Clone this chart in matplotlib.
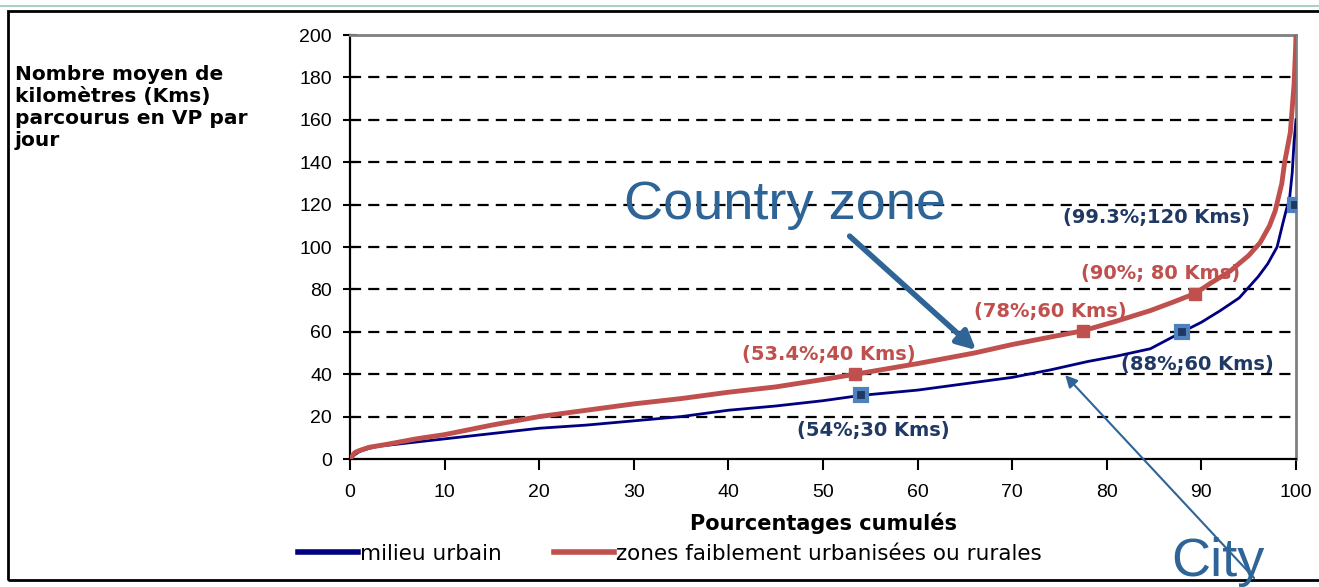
import numpy as np
import matplotlib
matplotlib.use("Agg")
import matplotlib.pyplot as plt
from matplotlib.lines import Line2D
from matplotlib.patches import Rectangle

# cumulative share of drivers (%) vs km per day
urban_x = [0, 0.5, 1, 2, 3, 5, 8, 10, 15, 20, 25, 30, 35, 40, 45, 50, 54, 60, 65, 70,
           74, 78, 81, 84.6, 88, 90, 92, 94, 95, 96, 97, 98, 98.6, 99, 99.3, 99.6, 99.8, 100]
urban_y = [0, 2, 3.5, 5, 6, 7, 8.5, 9.5, 12, 14.5, 16, 18, 20, 23, 25, 27.5, 30, 32.5, 35.5, 38.5,
           42, 46, 48.5, 52, 60, 64.5, 70, 76, 81, 86, 92, 100, 111, 118, 122, 135, 150, 160]

rural_x = [0, 0.5, 1, 2, 4, 7, 10, 15, 20, 25, 30, 35, 40, 45, 50, 53.4, 60, 66, 70, 74,
           77.5, 81, 84.6, 87, 89.3, 91, 93, 95, 96.2, 97.2, 97.8, 98.5, 98.8, 99.4, 99.8, 99.95, 100]
rural_y = [0, 3, 4, 5.5, 7, 9.5, 11.5, 16, 20, 23, 26, 28.5, 31.5, 34, 37.5, 40, 45, 50, 54, 57.5,
           60.5, 65, 70, 74, 78, 83, 88.5, 96, 102, 110, 117, 130, 140, 154, 177, 193, 200]

rural_pts_x = [53.4, 77.5, 89.3]
rural_pts_y = [40, 60.5, 78]
rural_lbl = ["(53.4%;40 Kms)", "(78%;60 Kms)", "(90%; 80 Kms)"]
rural_lbl_pos = [(50.6, 49.5), (74.0, 69.5), (85.7, 87.5)]

urban_pts_x = [54, 88, 99.9]
urban_pts_y = [30, 60, 120]
urban_lbl = ["(54%;30 Kms)", "(88%;60 Kms)", "(99.3%;120 Kms)"]
urban_lbl_pos = [(55.3, 13.5), (89.6, 44.5), (85.3, 114)]

navy = "#000080"
red = "#C0504D"
lblblue = "#1F3864"
arrowblue = "#2F6497"
tickfont = "Liberation Sans"

fig = plt.figure(figsize=(13.19, 5.87), dpi=100)
ax = fig.add_axes([350/1319, 1-459/587, (1296-350)/1319, (459-35)/587])

ax.plot(urban_x, urban_y, color=navy, lw=2, zorder=3)
ax.plot(rural_x, rural_y, color=red, lw=3.5, zorder=4)

ax.plot(rural_pts_x, rural_pts_y, 's', color=red, ms=9, zorder=5)
ax.plot(urban_pts_x, urban_pts_y, 's', mfc=lblblue, mec="#4F81BD", mew=3, ms=9, zorder=5)

for t, (x, y) in zip(rural_lbl, rural_lbl_pos):
    ax.text(x, y, t, color=red, fontsize=14, fontweight="bold", ha="center", va="center", zorder=6)
for t, (x, y) in zip(urban_lbl, urban_lbl_pos):
    ax.text(x, y, t, color=lblblue, fontsize=14, fontweight="bold", ha="center", va="center", zorder=6)

ax.set_xlim(0, 100)
ax.set_ylim(0, 200)
ax.set_xticks(np.arange(0, 101, 10))
ax.set_yticks(np.arange(0, 201, 20))
for lab in ax.get_xticklabels() + ax.get_yticklabels():
    lab.set_fontfamily(tickfont)
    lab.set_fontsize(14)
ax.tick_params(axis="y", direction="inout", length=10, width=1.5, pad=8)
ax.tick_params(axis="x", direction="out", length=8, width=1.5, pad=10)

ax.grid(axis="y", color="black", lw=1.6, linestyle=(0, (5, 3.2)))
gl = ax.yaxis.get_gridlines()
gl[0].set_visible(False)
gl[-1].set_visible(False)

for s in ["left", "bottom"]:
    ax.spines[s].set_color("black")
    ax.spines[s].set_linewidth(1.6)
for s in ["top", "right"]:
    ax.spines[s].set_color("#808080")
    ax.spines[s].set_linewidth(2)

ax.set_xlabel("Pourcentages cumulés", fontsize=15, fontweight="bold", labelpad=8)

fig.text(15/1319, 1-65/587, "Nombre moyen de\nkilomètres (Kms)\nparcourus en VP par\njour",
         fontsize=14.5, fontweight="bold", va="top", ha="left", linespacing=1.2)

# annotations
ax.annotate("", xy=(66.4, 50.5), xytext=(52.6, 106),
            arrowprops=dict(arrowstyle="-|>", color=arrowblue, lw=4, mutation_scale=28), zorder=7)
ax.text(46, 120, "Country zone", fontsize=39, family=tickfont, color=arrowblue,
        ha="center", va="center", zorder=7)
ax.annotate("", xy=(75.4, 40.5), xytext=(1256/1319, 1-580/587), textcoords="figure fraction",
            arrowprops=dict(arrowstyle="-|>", color=arrowblue, lw=1.5, mutation_scale=18),
            annotation_clip=False, zorder=7)
fig.text(1218/1319, 1-576/587, "City", fontsize=39, family=tickfont, color=arrowblue,
         ha="center", va="baseline")

handles = [Line2D([], [], color=navy, lw=4), Line2D([], [], color=red, lw=4)]
fig.legend(handles, ["milieu urbain", "zones faiblement urbanisées ou rurales"],
           loc="center", bbox_to_anchor=(670/1319, 1-554/587), ncol=2, frameon=False,
           fontsize=15.5, handlelength=2.8, handletextpad=0.1, columnspacing=2.4)

# frame around the picture
fig.patches.append(Rectangle((8/1319, 1-580/587), 1.2, (580-11)/587, transform=fig.transFigure,
                             fill=False, edgecolor="black", lw=2))
fig.lines.append(Line2D([0, 1], [1-6/587, 1-6/587], transform=fig.transFigure, color="#A8D0C8", lw=1.5))

fig.savefig("out.png", dpi=100)
